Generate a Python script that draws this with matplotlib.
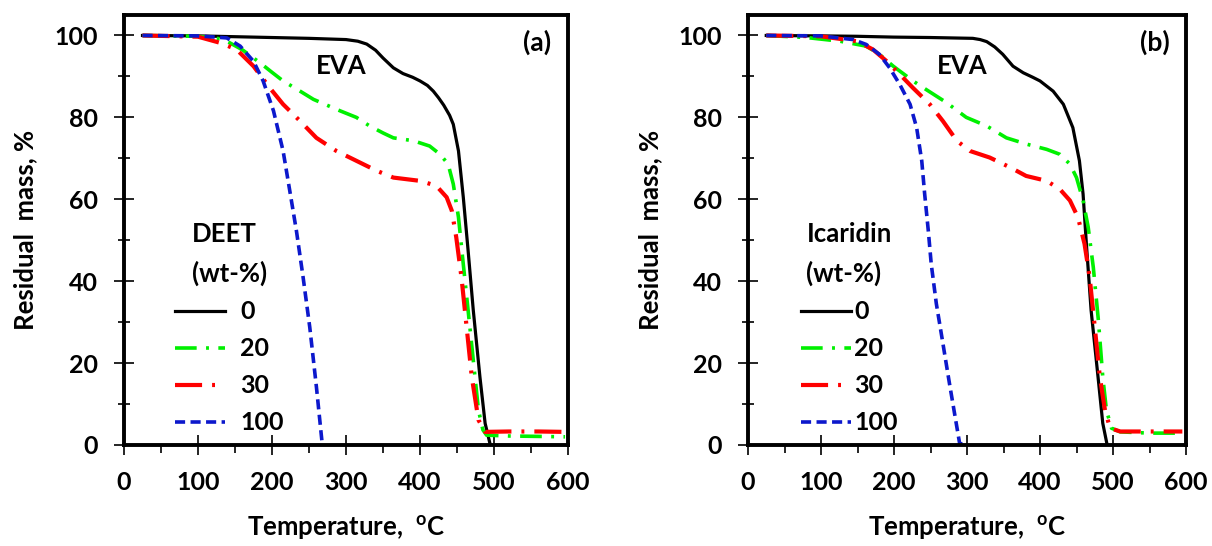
import matplotlib
matplotlib.use('Agg')
import matplotlib.pyplot as plt
from matplotlib.ticker import MultipleLocator

plt.rcParams['font.family'] = ['Lato', 'DejaVu Sans']
plt.rcParams['font.weight'] = 'bold'
plt.rcParams['mathtext.fontset'] = 'custom'
plt.rcParams['mathtext.rm'] = 'Lato:bold'
plt.rcParams['mathtext.bf'] = 'Lato:bold'

# ---- panel (a): DEET ----
a_eva_t = [25, 100, 150, 200, 250, 300, 316, 328, 340, 350, 364, 377, 390, 400, 410, 418, 425, 432, 440,
           445, 452, 458.5, 465, 472, 481, 488, 495]
a_eva_m = [100, 99.9, 99.7, 99.5, 99.3, 99.0, 98.6, 97.9, 96.4, 94.5, 92.1, 90.7, 89.8, 88.9, 87.8, 86.4,
           84.8, 83.0, 80.5, 78.3, 71.8, 60.5, 47.5, 32.9, 16.6, 5.3, 0]
a_20_t = [25, 100, 130, 143, 160, 184, 200, 215, 238, 256, 292, 314, 332, 350, 364, 391, 413, 427, 438,
          445, 452, 458, 465, 472, 479, 485, 490, 520, 560, 596]
a_20_m = [100, 99.8, 99.2, 98.2, 96.5, 93.3, 91.0, 88.9, 86.4, 84.4, 81.6, 80.0, 77.9, 76.2, 75.0, 74.3,
          73.0, 71.0, 68.6, 63.7, 55.6, 45.0, 32.9, 20.7, 8.5, 3.7, 2.4, 2.2, 2.1, 2.0]
a_30_t = [25, 100, 130, 152, 175, 197, 215, 238, 260, 287, 314, 341, 364, 400, 422, 436, 443, 449, 456,
          463, 470, 479, 488, 520, 560, 596]
a_30_m = [100, 99.7, 98.2, 96.6, 92.5, 87.2, 83.2, 79.1, 75.0, 71.8, 69.4, 67.0, 65.3, 64.5, 63.3, 60.5,
          57.2, 50.7, 41.0, 28.8, 16.6, 6.1, 3.2, 3.3, 3.3, 3.2]
a_100_t = [25, 100, 139, 157, 175, 188, 202, 215, 224, 233, 242, 251, 260, 268]
a_100_m = [100, 99.9, 99.4, 97.4, 93.7, 88.9, 81.6, 71.8, 62.1, 52.3, 41.0, 28.8, 14.2, 0]

# ---- panel (b): Icaridin ----
b_eva_t = [25, 100, 150, 200, 250, 308, 318, 327, 338, 349, 363, 377, 390, 400, 418, 432, 445, 454, 459,
           463.5, 470, 479.5, 486, 492]
b_eva_m = [100, 99.9, 99.8, 99.6, 99.5, 99.3, 99.0, 98.5, 97.2, 95.4, 92.5, 90.9, 89.8, 88.9, 86.4, 83.2,
           77.5, 69.4, 61.3, 49.2, 32.9, 16.6, 5.3, 0]
b_20_t = [25, 80, 126, 162, 180, 199, 226, 244, 272, 299, 327, 354, 381, 409, 427, 441, 450, 459, 466,
          473, 480, 486, 491, 498, 510, 550, 595]
b_20_m = [100, 99.5, 98.6, 97.4, 95.4, 92.5, 88.9, 86.8, 83.6, 80.0, 77.9, 75.0, 73.5, 72.2, 71.0, 68.6,
          65.3, 59.7, 53.2, 43.4, 30.4, 16.6, 8.5, 4.1, 3.2, 2.9, 2.9]
b_30_t = [25, 100, 149, 171, 190, 208, 226, 249, 267, 286, 304, 331, 359, 381, 409, 427, 441, 452, 461,
          468, 475, 482, 489, 496, 510, 550, 595]
b_30_m = [100, 99.8, 98.6, 96.6, 93.7, 90.5, 87.2, 83.2, 79.1, 74.3, 71.8, 70.2, 67.8, 65.7, 64.5, 62.5,
          59.7, 55.6, 49.1, 41.0, 28.8, 16.6, 8.5, 4.1, 3.3, 3.3, 3.3]
b_100_t = [25, 100, 144, 162, 180, 194, 208, 222, 231, 238, 242, 247, 251, 258, 267, 276, 286, 290, 296]
b_100_m = [100, 99.9, 99.0, 97.8, 95.4, 92.1, 88.0, 83.2, 77.5, 69.4, 61.3, 52.3, 44.2, 34.5, 24.8, 15.0,
           4.5, 0.3, 0.3]

labels = ['0', '20', '30', '100']


def draw_panel(ax, curves, title, tag, textpad, leg_x):
    (t0, m0), (t20, m20), (t30, m30), (t100, m100) = curves
    ax.plot(t0, m0, color='black', lw=2.3, label=labels[0])
    ax.plot(t20, m20, color='#00f000', lw=2.6, dashes=(6, 2.6, 0.8, 2.6), label=labels[1])
    ax.plot(t30, m30, color='#ff0000', lw=3.0, dashes=(6.5, 2.4, 0.7, 2.4), label=labels[2])
    ax.plot(t100, m100, color='#0c18cc', lw=2.6, dashes=(2.8, 1.5), label=labels[3])

    ax.set_xlim(0, 600)
    ax.set_ylim(0, 105)
    ax.xaxis.set_major_locator(MultipleLocator(100))
    ax.xaxis.set_minor_locator(MultipleLocator(50))
    ax.yaxis.set_major_locator(MultipleLocator(20))
    ax.yaxis.set_minor_locator(MultipleLocator(10))
    ax.tick_params(axis='x', which='major', direction='inout', length=14, width=1.2, pad=12, labelsize=18)
    ax.tick_params(axis='x', which='minor', direction='out', length=6, width=1.2)
    ax.tick_params(axis='y', which='major', direction='inout', length=15, width=1.2, pad=11, labelsize=18)
    ax.tick_params(axis='y', which='minor', direction='inout', length=9, width=1.2)
    for s in ax.spines.values():
        s.set_linewidth(2.8)

    ax.set_xlabel('Temperature,  $^{\\mathrm{o}}$C', fontsize=18.5, fontweight='bold')
    ax.set_ylabel('Residual  mass, %', fontsize=18.5, fontweight='bold')
    ax.xaxis.set_label_coords(0.5, -0.158)
    ax.yaxis.set_label_coords(-0.195, 0.5)

    ax.text(293, 92.5, 'EVA', fontsize=18.5, fontweight='bold', ha='center', va='center')
    ax.text(0.93, 0.937, tag, transform=ax.transAxes, fontsize=19, fontweight='bold',
            ha='center', va='center')

    leg = ax.legend(loc='lower left', bbox_to_anchor=(leg_x, 0.025), frameon=False,
                    fontsize=18, title=title, title_fontproperties={'size': 18.5, 'weight': 'bold'},
                    handlelength=2.0, handletextpad=textpad, labelspacing=0.56,
                    borderpad=0, borderaxespad=0)
    leg.get_title().set_linespacing(1.7)
    leg._legend_box.align = 'center'


fig = plt.figure(figsize=(12.12, 5.46), dpi=100)
ax_a = fig.add_axes([124 / 1212, 101 / 546, 444 / 1212, 430 / 546])
ax_b = fig.add_axes([748 / 1212, 101 / 546, 438 / 1212, 430 / 546])

draw_panel(ax_a, [(a_eva_t, a_eva_m), (a_20_t, a_20_m), (a_30_t, a_30_m), (a_100_t, a_100_m)],
           'DEET\n(wt-%)', '(a)', 0.6, 0.115)
draw_panel(ax_b, [(b_eva_t, b_eva_m), (b_20_t, b_20_m), (b_30_t, b_30_m), (b_100_t, b_100_m)],
           'Icaridin\n(wt-%)', '(b)', 0.15, 0.12)

fig.savefig('out.png', dpi=100)
